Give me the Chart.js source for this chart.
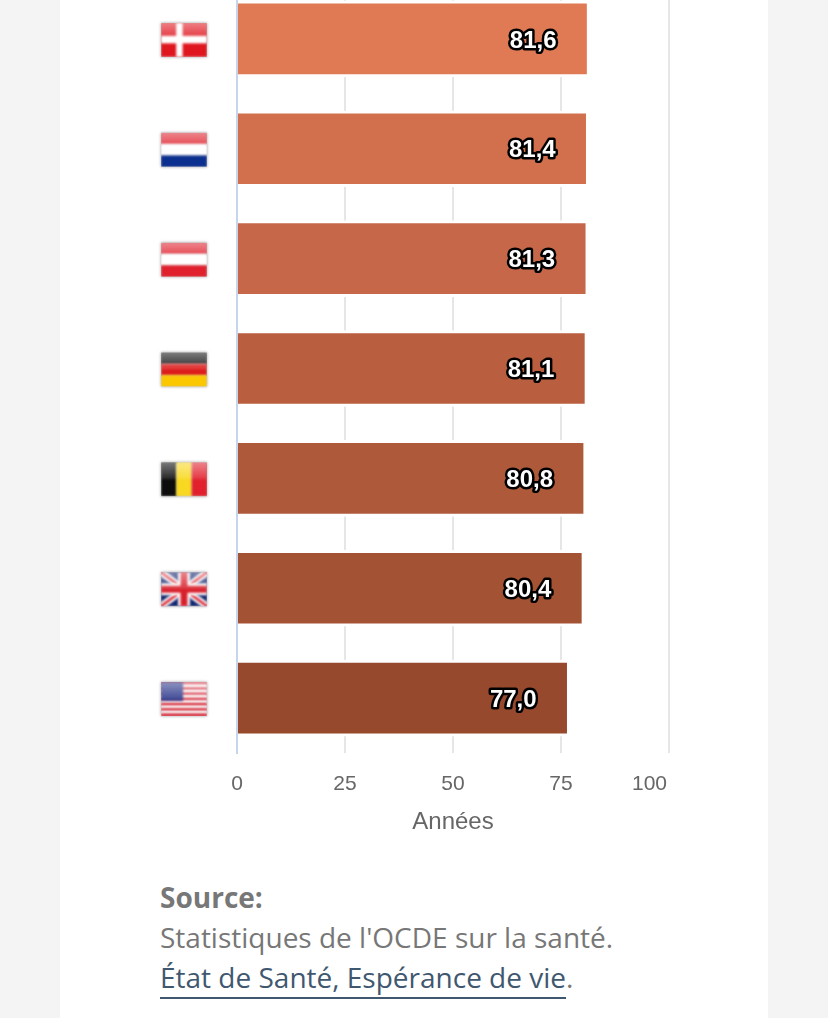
<!DOCTYPE html>
<html lang="fr">
<head>
<meta charset="utf-8">
<title>Espérance de vie</title>
<script src="https://cdn.jsdelivr.net/npm/chart.js@4"></script>
<style>
  html, body { margin: 0; height: 1018px; overflow: hidden; background: #f4f4f4; }
  #panel { position: absolute; left: 60px; top: 0; width: 708px; height: 1018px; background: #fff; }
  #graphique { position: absolute; left: 0; top: -16px; }
  #source {
    position: absolute; left: 160px; top: 877px;
    font: 28px/40px "Open Sans", sans-serif; color: #777;
  }
  #source a { color: #3f5870; text-decoration: none; border-bottom: 2px solid #3f5870; padding-bottom: 1px; }
</style>
</head>
<body>
<div id="panel"></div>
<canvas id="graphique" width="828" height="857"></canvas>
<div id="source">
  <b>Source:</b><br>
  Statistiques de l'OCDE sur la santé.<br>
  <a href="#">État de Santé, Espérance de vie</a>.
</div>

<script>
/* Données */
const pays = ['Danemark', 'Pays-Bas', 'Autriche', 'Allemagne', 'Belgique', 'Royaume-Uni', 'États-Unis'];
const esperanceVie = [81.6, 81.4, 81.3, 81.1, 80.8, 80.4, 77.0];
const graduations = [0, 25, 50, 75, 100];
const titreAxe = 'Années';

const couleursBarres = ['#df7a55', '#d2704d', '#c66749', '#ba5e40', '#ae593a', '#a35334', '#96492c'];

/* Drapeaux : chaque fonction peint dans un rectangle l x h */
function bandesH(ctx, l, h, couleurs) {
  couleurs.forEach((c, i) => {
    ctx.fillStyle = c;
    ctx.fillRect(0, h * i / couleurs.length, l, h / couleurs.length + 0.5);
  });
}

function bandesV(ctx, l, h, couleurs) {
  couleurs.forEach((c, i) => {
    ctx.fillStyle = c;
    ctx.fillRect(l * i / couleurs.length, 0, l / couleurs.length + 0.5, h);
  });
}

const drapeaux = {
  'Danemark': (ctx, l, h) => {
    ctx.fillStyle = '#e0161f';
    ctx.fillRect(0, 0, l, h);
    ctx.fillStyle = '#fff';
    ctx.fillRect(l * 0.33, 0, l * 0.14, h);
    ctx.fillRect(0, h * 0.38, l, h * 0.22);
  },
  'Pays-Bas': (ctx, l, h) => bandesH(ctx, l, h, ['#e0202c', '#fff', '#0b2f8f']),
  'Autriche': (ctx, l, h) => bandesH(ctx, l, h, ['#e0202c', '#fff', '#e0202c']),
  'Allemagne': (ctx, l, h) => bandesH(ctx, l, h, ['#111', '#dd1c1c', '#fbc800']),
  'Belgique': (ctx, l, h) => bandesV(ctx, l, h, ['#0c0c0c', '#f8d820', '#e21f2c']),
  'Royaume-Uni': (ctx, l, h) => {
    ctx.fillStyle = '#10246f';
    ctx.fillRect(0, 0, l, h);
    const diagonales = () => {
      ctx.beginPath();
      ctx.moveTo(0, 0); ctx.lineTo(l, h);
      ctx.moveTo(l, 0); ctx.lineTo(0, h);
      ctx.stroke();
    };
    ctx.strokeStyle = '#fff';
    ctx.lineWidth = 7;
    diagonales();
    ctx.strokeStyle = '#d8202c';
    ctx.lineWidth = 2.5;
    diagonales();
    ctx.fillStyle = '#fff';
    ctx.fillRect(l / 2 - 6, 0, 12, h);
    ctx.fillRect(0, h / 2 - 6, l, 12);
    ctx.fillStyle = '#d8202c';
    ctx.fillRect(l / 2 - 3.5, 0, 7, h);
    ctx.fillRect(0, h / 2 - 3.5, l, 7);
  },
  'États-Unis': (ctx, l, h) => {
    for (let i = 0; i < 13; i++) {
      ctx.fillStyle = i % 2 ? '#fff' : '#df2a3c';
      ctx.fillRect(0, h * i / 13, l, h / 13 + 0.5);
    }
    ctx.fillStyle = '#2f3a8c';
    ctx.fillRect(0, 0, l * 0.48, h * 0.55);
  }
};

/* Colonne des drapeaux, alignée sur les catégories */
const pluginDrapeaux = {
  id: 'drapeaux',
  afterDraw(chart) {
    const { ctx, chartArea, scales } = chart;
    const l = 46, h = 34;
    pays.forEach((nom, i) => {
      const x = chartArea.left - 76;
      const y = scales.y.getPixelForValue(i) - h / 2 + 1;
      ctx.save();
      ctx.translate(x, y);
      ctx.filter = 'blur(0.9px)';
      ctx.save();
      ctx.shadowColor = 'rgba(0,0,0,0.3)';
      ctx.shadowBlur = 2;
      ctx.fillStyle = '#ccc';
      ctx.fillRect(0, 0, l, h);
      ctx.restore();
      ctx.save();
      ctx.beginPath();
      ctx.rect(0, 0, l, h);
      ctx.clip();
      drapeaux[nom](ctx, l, h);
      // reflet clair, dégradé sur le haut du drapeau
      const reflet = ctx.createLinearGradient(0, 0, 0, h * 0.5);
      reflet.addColorStop(0, 'rgba(255,255,255,0.45)');
      reflet.addColorStop(1, 'rgba(255,255,255,0.1)');
      ctx.fillStyle = reflet;
      ctx.fillRect(0, 0, l, h * 0.5);
      ctx.restore();
      ctx.restore();
    });
  }
};

/* Valeurs affichées dans les barres, blanc cerné de noir */
const pluginValeurs = {
  id: 'valeurs',
  afterDatasetsDraw(chart) {
    const { ctx } = chart;
    ctx.save();
    ctx.font = 'bold 24px "Liberation Sans", Arial, sans-serif';
    ctx.textAlign = 'right';
    ctx.textBaseline = 'middle';
    ctx.lineJoin = 'round';
    chart.getDatasetMeta(0).data.forEach((barre, i) => {
      const texte = esperanceVie[i].toFixed(1).replace('.', ',');
      const x = barre.x - 33;
      const y = barre.y + 2;
      ctx.lineWidth = 5;
      ctx.strokeStyle = '#000';
      ctx.strokeText(texte, x, y);
      ctx.fillStyle = '#fff';
      ctx.fillText(texte, x, y);
    });
    ctx.restore();
  }
};

/* Le dernier libellé (100) reste à l'intérieur de la zone du graphique */
const pluginDernierLibelle = {
  id: 'dernierLibelle',
  beforeDraw(chart) {
    const items = chart.scales.x.getLabelItems();
    const dernier = items[items.length - 1];
    if (dernier) {
      dernier.options.textAlign = 'right';
      dernier.options.translation[0] = chart.scales.x.right - 2;
    }
  }
};

new Chart(document.getElementById('graphique'), {
  type: 'bar',
  data: {
    labels: pays,
    datasets: [{
      data: esperanceVie,
      backgroundColor: couleursBarres,
      borderColor: '#fff',
      borderWidth: 3,
      borderSkipped: 'left',
      barThickness: 76
    }]
  },
  options: {
    indexAxis: 'y',
    responsive: false,
    animation: false,
    layout: { padding: { left: 237, right: 159, top: 0, bottom: 0 } },
    plugins: { legend: { display: false }, tooltip: { enabled: false } },
    scales: {
      x: {
        min: 0,
        max: 100,
        afterBuildTicks: axe => { axe.ticks = graduations.map(value => ({ value })); },
        grid: {
          color: c => (c.tick && c.tick.value === 0 ? 'transparent' : '#e6e6e6'),
          lineWidth: 2,
          drawTicks: false
        },
        border: { display: false },
        ticks: {
          color: '#666',
          font: { family: '"Liberation Sans", Arial, sans-serif', size: 21 },
          padding: 19,
          maxRotation: 0,
          autoSkip: false
        },
        title: {
          display: true,
          text: titreAxe,
          color: '#666',
          font: { family: '"Liberation Sans", Arial, sans-serif', size: 24 },
          padding: { top: -8, bottom: 4 }
        }
      },
      y: {
        grid: { display: false, drawTicks: false },
        border: { display: true, color: '#c6d4ec', width: 2, z: 1 },
        ticks: { display: false }
      }
    }
  },
  plugins: [pluginDernierLibelle, pluginValeurs, pluginDrapeaux]
});
</script>
</body>
</html>
